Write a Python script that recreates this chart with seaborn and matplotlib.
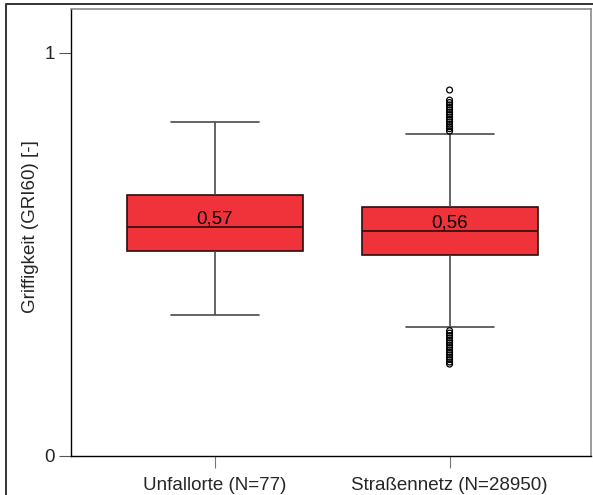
import matplotlib
matplotlib.use("Agg")
import matplotlib.pyplot as plt
from matplotlib.lines import Line2D
import seaborn as sns
import pandas as pd

# five-number summaries (lower whisker, Q1, median, Q3, upper whisker)
categories = ["Unfallorte (N=77)", "Straßennetz (N=28950)"]
summary_unfallorte = [0.350, 0.509, 0.568, 0.648, 0.829]
summary_strassennetz = [0.320, 0.499, 0.558, 0.618, 0.799]

# outliers of the road network group
outliers_high = [0.806, 0.812, 0.817, 0.823, 0.829, 0.835, 0.841, 0.847,
                 0.853, 0.859, 0.865, 0.871, 0.877, 0.883, 0.908]
outliers_low = [0.311, 0.305, 0.299, 0.293, 0.287, 0.281, 0.275, 0.269,
                0.263, 0.257, 0.251, 0.245, 0.239, 0.233, 0.228]

ylabel = "Griffigkeit (GRI60) [-]"

sns.set_theme(style="white")
plt.rcParams["font.family"] = ["Liberation Sans", "DejaVu Sans"]

box_df = pd.DataFrame({
    "gruppe": [categories[0]] * len(summary_unfallorte) + [categories[1]] * len(summary_strassennetz),
    "gri": summary_unfallorte + summary_strassennetz,
})
out_vals = outliers_high + outliers_low
out_df = pd.DataFrame({"gruppe": [categories[1]] * len(out_vals), "gri": out_vals})

fig = plt.figure(figsize=(5.93, 4.95), dpi=100)
ax = fig.add_axes([71 / 593, 1 - 456 / 495, 520 / 593, 447 / 495])

sns.boxplot(data=box_df, x="gruppe", y="gri", order=categories, ax=ax,
            color="#f0333b", saturation=1, width=0.75, whis=(0, 100),
            showfliers=False, linecolor="#2a0d0d", linewidth=1.2,
            whiskerprops={"color": "#4a4a4a"}, capprops={"color": "#4a4a4a"})

sns.stripplot(data=out_df, x="gruppe", y="gri", order=categories, ax=ax,
              jitter=False, color="white", edgecolor="black", linewidth=0.9,
              size=4.2, marker="o")
for coll in ax.collections:
    coll.set_facecolor("none")

# median labels
for i, summ in enumerate([summary_unfallorte, summary_strassennetz]):
    med = summ[2]
    ax.text(i, med + 0.009, f"{med:.2f}".replace(".", ","), ha="center",
            va="baseline", fontsize=13.5, color="black")

ax.set_xlim(-0.614, 1.603)
ax.set_ylim(0, 1.109)
ax.set_yticks([0, 1])
ax.set_yticklabels(["0", "1"])
ax.set_xlabel("")
ax.set_ylabel(ylabel, fontsize=13.5)
ax.yaxis.set_label_coords(-0.062, 0.513)
ax.tick_params(axis="y", left=True, length=8.6, width=0.8, color="#555555",
               labelsize=13.5, pad=3)
ax.tick_params(axis="x", bottom=True, length=8.6, width=0.8, color="#777777",
               labelsize=13.5, pad=6.5)

for side in ["left", "bottom"]:
    ax.spines[side].set_color("black")
    ax.spines[side].set_linewidth(1.0)
for side in ["top", "right"]:
    ax.spines[side].set_color("#8a8a8a")
    ax.spines[side].set_linewidth(1.2)

# outer frame (left and top)
fig.add_artist(Line2D([5.5 / 593, 5.5 / 593, 1.0], [0.0, 1 - 3.5 / 495, 1 - 3.5 / 495],
                      transform=fig.transFigure, color="#333333", linewidth=1.4))

fig.savefig("out.png", dpi=100)
